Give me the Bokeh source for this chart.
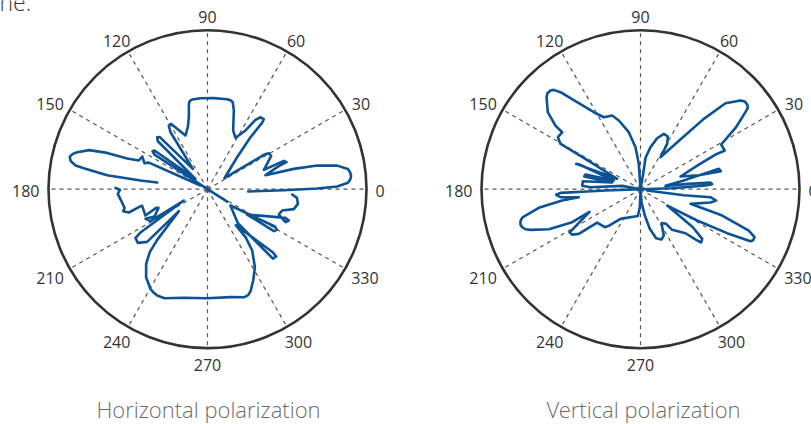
import math
from bokeh.plotting import figure
from bokeh.models import Range1d, Label
from bokeh.core.properties import value
from bokeh.embed import file_html
from bokeh.resources import INLINE

# ---------------- data (angle in degrees, radius relative to outer circle) ----------------
# Horizontal polarization: three drawn pieces
h_seg1_deg = [-3.3, -0.75, 0.35, 1.2, 2.6, 3.9, 5.2, 6.8, 8.2, 10.3, 12.2, 13.25,
              13.6, 17.9, 18.9, 20.4, 18.9, 27.6, 30.5, 31.4, 32.9, 47.2,
              50.4, 50.6, 51.2, 53.6, 55.3, 57.1, 61.4, 66.4, 71.5, 73.8, 75.5,
              77.7, 86.0, 94.4, 99.7, 101.3, 102.3, 104.5, 107.6, 112.3, 116.7, 119.1,
              121.3, 123.0, 125.8, 132.5, 134.1, 136.0, 139.3, 143.9, 145.4, 146.8,
              150.0, 327.9]
h_seg1_r = [.256, .480, .690, .816, .884, .900, .907, .903, .892, .829, .706, .558,
            .375, .471, .525, .512, .375, .452, .446, .415, .127, .274,
            .424, .542, .565, .562, .530, .440, .368, .403, .522, .570, .578,
            .579, .574, .574, .572, .567, .549, .468, .409, .365, .425, .470,
            .469, .427, .158, .444, .455, .434, .100, .413, .420, .398,
            0.0, .146]

h_seg2_deg = [152.4, 155.6, 157.6, 153.4, 157.3, 159.1, 160.1, 161.7, 164.2, 165.3,
              166.7, 168.4, 169.8, 170.4, 172.1, 172.6, 172.5]
h_seg2_r = [.050, .405, .429, .459, .468, .541, .671, .783, .852, .876,
            .890, .879, .843, .789, .637, .425, .319]

h_seg3_deg = [179.2, 180.4, 183.0, 187.5, 192.7, 194.6, 196.5, 194.4, 194.3, 203.0,
              200.0, 200.9, 207.3, 205.6, 209.3, 205.6, 212.9, 214.1, 217.6, 221.1,
              217.5, 225.2, 227.5, 230.6, 235.1, 240.2, 242.6, 244.7, 248.5, 257.7, 269.8,
              282.0, 288.9, 291.0, 292.9, 296.6, 301.3, 306.1, 308.4, 308.2, 316.0, 315.6,
              313.3, 311.7, 324.6, 331.0, 329.6, 327.7, 327.4, 339.8, 338.9, 337.1,
              340.4, 344.1, 347.0, 350.8, 354.5, 356.4]
h_seg3_r = [.579, .551, .565, .548, .535, .548, .516, .439, .424, .424,
            .344, .330, .375, .432, .411, .165, .502, .547, .553, .504,
            .227, .449, .537, .608, .675, .722, .734, .740, .737, .699, .686,
            .694, .718, .714, .696, .642, .574, .477, .385, .288, .571, .605,
            .600, .287, .177, .484, .506, .494, .296, .523, .548, .533,
            .476, .488, .557, .576, .565, .534]

# Vertical polarization: one drawn piece
v_deg = [0, 1.8, 3.2, 4.0, 5.4, 6.3, 7.6, 11.7, 14.6, 12.6, 13.5, 17.6,
         22.9, 24.8, 24.6, 29.0, 32.8, 36.3, 37.2, 38.4, 40.0, 41.6, 45.3, 48.0, 50.6,
         58.0, 59.5, 62.6, 67.1, 71.9, 76.6, 80.9, 80.1, 90,
         93.8, 96.8, 101.6, 107.5, 111.0, 117.0, 121.2, 126.1, 129.5, 131.1, 132.4, 134.1,
         135.6, 140.3, 143.2, 144.0, 147.8, 150.5, 150.6, 151.6, 156.1,
         158.5, 158.0, 162.0, 165.1, 167.3, 166.8, 172.1, 176.7, 177.7, 169.7, 180,
         182.2, 182.5, 182.6, 183.8, 185.7, 187.4, 188.2, 190.4, 192.9, 193.6, 194.9, 196.4,
         197.8, 199.2, 200.3, 203.6, 205.8, 204.0, 210.3, 211.2, 213.6, 215.9, 217.6,
         226.8, 229.5, 236.0, 264.3, 267.9, 270,
         274.4, 279.3, 283.2, 287.7, 292.6, 296.7, 301.7, 306.5, 307.9, 315.6,
         317.7, 318.7, 321.2, 324.0, 328.5, 331.1, 333.1, 334.7, 335.6, 337.2, 339.1,
         342.1, 343.7, 349.2, 351.5, 353.5, 352.1, 348.7]
v_r = [0, .199, .409, .452, .442, .306, .159, .289, .509, .518, .377, .264,
       .398, .520, .583, .580, .711, .819, .847, .857, .857, .841, .760, .595, .429,
       .237, .331, .373, .378, .337, .272, .200, .098, 0,
       .160, .266, .366, .453, .496, .508, .566, .677, .791, .829, .840, .841,
       .827, .758, .668, .609, .614, .578, .517, .357, .161,
       .435, .414, .176, .358, .363, .183, .366, .367, .315, .117, 0,
       .220, .336, .504, .532, .506, .391, .498, .650, .742, .766, .781, .787,
       .782, .766, .738, .629, .477, .351, .486, .522, .516, .479, .344,
       .328, .300, .225, .169, .113, 0,
       .082, .168, .256, .324, .343, .326, .251, .271, .324, .396,
       .473, .508, .498, .407, .197, .407, .611, .765, .778, .778, .729,
       .540, .328, .448, .481, .443, .275, .043]

tick_angles = [0, 30, 60, 90, 120, 150, 180, 210, 240, 270, 300, 330]
tick_labels = ["0", "30", "60", "90", "120", "150", "180", "210", "240", "270", "300", "330"]
titles = ["Horizontal polarization", "Vertical polarization"]
fragment_text = "ne."

# ---------------- layout ----------------
W, H = 811, 424
RPX = 159.0                 # outer circle radius in pixels
LEFT_CX_PX, CY_TOP_PX = 207.0, 188.7
RIGHT_CX_PX = 640.0
x0 = -LEFT_CX_PX / RPX
y1 = CY_TOP_PX / RPX
centers = [(0.0, 0.0), ((RIGHT_CX_PX - LEFT_CX_PX) / RPX, 0.0)]

CURVE = "#0b5394"
RING = "#333333"
SPOKE = "#555555"
LABEL = "#333333"
TITLE = "#6b6b6b"

p = figure(width=W, height=H, output_backend="svg", toolbar_location=None,
           x_range=Range1d(x0, x0 + W / RPX), y_range=Range1d(y1 - H / RPX, y1),
           min_border=0, outline_line_color=None)
p.axis.visible = False
p.grid.visible = False
p.background_fill_color = "white"


def to_xy(deg, r, c):
    xs = [c[0] + rr * math.cos(math.radians(d)) for d, rr in zip(deg, r)]
    ys = [c[1] + rr * math.sin(math.radians(d)) for d, rr in zip(deg, r)]
    return xs, ys


for c in centers:
    # dashed spokes
    sx1 = [c[0] + math.cos(math.radians(a)) for a in tick_angles]
    sy1 = [c[1] + math.sin(math.radians(a)) for a in tick_angles]
    p.segment(x0=[c[0]] * len(tick_angles), y0=[c[1]] * len(tick_angles), x1=sx1, y1=sy1,
              line_color=SPOKE, line_width=1.2, line_dash="4 4")
    # outer ring
    p.circle(x=[c[0]], y=[c[1]], radius=1.0, fill_color=None,
             line_color=RING, line_width=2.6)
    # angle labels
    lx, ly = [], []
    for a, t in zip(tick_angles, tick_labels):
        ca, sa = math.cos(math.radians(a)), math.sin(math.radians(a))
        w = 9.2 * len(t)
        h = 11.5
        dx = 168.0 * ca + w / 2 * ca
        dy = 168.0 * sa + h / 2 * sa - 2.0
        lx.append(c[0] + dx / RPX)
        ly.append(c[1] + dy / RPX)
    p.text(x=lx, y=ly, text=tick_labels, text_align="center", text_baseline="middle",
           text_font=value("Open Sans"), text_font_size="16px", text_color=LABEL)

# curves
for deg, r in [(h_seg1_deg, h_seg1_r), (h_seg2_deg, h_seg2_r), (h_seg3_deg, h_seg3_r)]:
    xs, ys = to_xy(deg, r, centers[0])
    p.line(xs, ys, line_color=CURVE, line_width=2.6, line_join="round", line_cap="round")

xs, ys = to_xy(v_deg, v_r, centers[1])
p.line(xs, ys, line_color=CURVE, line_width=2.6, line_join="round", line_cap="round")

# titles (vertically centred on the reference caption)
title_y = -(408.0 - CY_TOP_PX) / RPX
p.text(x=[centers[0][0] + 1 / RPX, centers[1][0] + 3 / RPX], y=[title_y, title_y], text=titles,
       text_align="center", text_baseline="middle",
       text_font=value("Open Sans Light"), text_font_size="22px", text_color=TITLE)

# fragment of the surrounding page text, cut by the top edge
p.add_layout(Label(x=-1, y=H - 1.5, x_units="screen", y_units="screen", text=fragment_text,
                   text_baseline="middle", text_align="left",
                   text_font="Open Sans Light", text_font_size="23px", text_color="#333333"))

open("out.html", "w").write(file_html(p, INLINE))
